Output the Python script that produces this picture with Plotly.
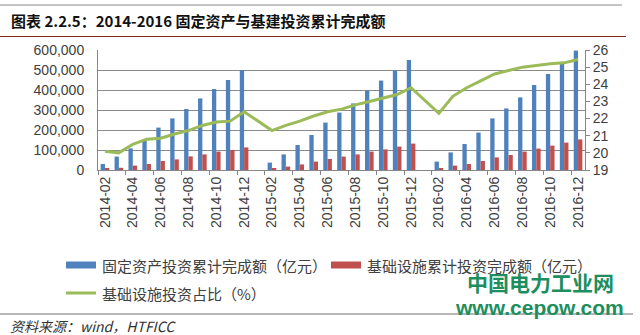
import plotly.graph_objects as go

# ---------------- data ----------------
months = [
    "2014-02", "2014-03", "2014-04", "2014-05", "2014-06", "2014-07", "2014-08",
    "2014-09", "2014-10", "2014-11", "2014-12",
    "2015-01", "2015-02", "2015-03", "2015-04", "2015-05", "2015-06", "2015-07",
    "2015-08", "2015-09", "2015-10", "2015-11", "2015-12",
    "2016-01", "2016-02", "2016-03", "2016-04", "2016-05", "2016-06", "2016-07",
    "2016-08", "2016-09", "2016-10", "2016-11", "2016-12",
]

fixed_asset = [
    30000, 67000, 108000, 150000, 212000, 258000, 305000, 358000, 405000, 450000, 500000,
    None,
    37000, 78000, 125000, 175000, 237000, 287000, 333000, 397000, 447000, 497000, 550000,
    None,
    42000, 88000, 130000, 187000, 258000, 308000, 363000, 425000, 480000, 533000, 597000,
]

infrastructure = [
    8000, 11000, 22000, 30000, 45000, 53000, 68000, 78000, 92000, 100000, 113000,
    None,
    8000, 17000, 28000, 42000, 55000, 67000, 78000, 92000, 103000, 117000, 132000,
    None,
    6000, 22000, 30000, 45000, 63000, 75000, 92000, 107000, 122000, 137000, 153000,
]

infra_share = [
    20.1, 20.0, 20.5, 20.8, 20.85, 21.1, 21.3, 21.6, 21.8, 21.85, 22.4,
    None,
    21.3, 21.6, 21.85, 22.15, 22.4, 22.55, 22.8, 23.0, 23.2, 23.4, 23.8,
    None,
    22.3, 23.3, 23.8, 24.2, 24.6, 24.8, 25.0, 25.1, 25.2, 25.25, 25.45,
]

series_names = [
    "固定资产投资累计完成额（亿元）",
    "基础设施累计投资完成额（亿元）",
    "基础设施投资占比（%）",
]
series_colors = ["#4F81BD", "#C0504D", "#9BBB59"]

title_text = "图表 2.2.5：2014-2016 固定资产与基建投资累计完成额"
source_text = "资料来源：wind，HTFICC"
watermark_cn = "中国电力工业网"
watermark_url = "www.cepow.com"

# ---------------- layout geometry ----------------
W, H = 640, 335
L, R, T, B = 98, 55, 50, 165
PW, PH = W - L - R, H - T - B


def fx(px):
    return (px - L) / PW


def fy(py):
    return (H - B - py) / PH


CJK = "Noto Sans CJK SC, Noto Sans, sans-serif"
NUM = "Liberation Sans, Arial, sans-serif"

fig = go.Figure()
fig.add_trace(go.Bar(x=months, y=fixed_asset, name=series_names[0],
                     marker=dict(color=series_colors[0], line=dict(width=0)),
                     showlegend=False))
fig.add_trace(go.Bar(x=months, y=infrastructure, name=series_names[1],
                     marker=dict(color=series_colors[1], line=dict(width=0)),
                     showlegend=False))
fig.add_trace(go.Scatter(x=months, y=infra_share, name=series_names[2], yaxis="y2",
                         mode="lines", connectgaps=True,
                         line=dict(color=series_colors[2], width=3),
                         showlegend=False))

shapes = []
annotations = []

# title and rules
annotations.append(dict(text="<b>" + title_text + "</b>", x=fx(9), y=fy(20),
                        xref="paper", yref="paper", xanchor="left", yanchor="middle",
                        showarrow=False, font=dict(family=CJK, size=15, color="#111111")))
shapes.append(dict(type="line", xref="paper", yref="paper", x0=fx(0), x1=fx(626),
                   y0=fy(36.5), y1=fy(36.5), line=dict(color="#7a2a22", width=1)))
shapes.append(dict(type="line", xref="paper", yref="paper", x0=fx(0), x1=fx(622),
                   y0=fy(5), y1=fy(5), line=dict(color="#b0b0b0", width=1.5)))

# manual legend (Excel style swatches)
leg = [
    (66, 265, "bar", series_colors[0], series_names[0], 100),
    (331, 265, "bar", series_colors[1], series_names[1], 365),
    (66, 293, "line", series_colors[2], series_names[2], 100),
]
for x0, yc, kind, col, name, tx in leg:
    if kind == "bar":
        shapes.append(dict(type="rect", xref="paper", yref="paper",
                           x0=fx(x0), x1=fx(x0 + 30), y0=fy(yc - 3.5), y1=fy(yc + 3.5),
                           fillcolor=col, line=dict(width=0)))
    else:
        shapes.append(dict(type="line", xref="paper", yref="paper",
                           x0=fx(x0), x1=fx(x0 + 30), y0=fy(yc), y1=fy(yc),
                           line=dict(color=col, width=3)))
    annotations.append(dict(text=name, x=fx(tx), y=fy(yc), xref="paper", yref="paper",
                            xanchor="left", yanchor="middle", showarrow=False,
                            font=dict(family=CJK, size=15, color="#404040")))

# separator and source
shapes.append(dict(type="line", xref="paper", yref="paper", x0=fx(0), x1=fx(633),
                   y0=fy(314), y1=fy(314), line=dict(color="#707070", width=1)))
annotations.append(dict(text="<i>" + source_text + "</i>", x=fx(8), y=fy(326),
                        xref="paper", yref="paper", xanchor="left", yanchor="middle",
                        showarrow=False, font=dict(family=CJK, size=14, color="#333333")))

# watermark
annotations.append(dict(text="<b>" + watermark_cn + "</b>", x=fx(540), y=fy(282),
                        xref="paper", yref="paper", xanchor="center", yanchor="middle",
                        showarrow=False, font=dict(family=CJK, size=21, color="#1d8f5e")))
annotations.append(dict(text="<b>" + watermark_url + "</b>", x=fx(539), y=fy(307),
                        xref="paper", yref="paper", xanchor="center", yanchor="middle",
                        showarrow=False, font=dict(family=NUM, size=21, color="#1d8f5e")))

fig.update_layout(
    width=W, height=H,
    margin=dict(l=L, r=R, t=T, b=B, pad=0),
    paper_bgcolor="white", plot_bgcolor="white",
    barmode="group", bargap=0.38, bargroupgap=0.0,
    showlegend=False,
    shapes=shapes, annotations=annotations,
    xaxis=dict(
        type="category", categoryorder="array", categoryarray=months,
        tickmode="linear", tick0=0, dtick=2, tickson="boundaries",
        ticks="outside", ticklen=4, tickcolor="#868686", tickwidth=1,
        showline=True, linecolor="#868686", linewidth=1,
        showgrid=False, tickangle=-90,
        tickfont=dict(family=NUM, size=14, color="#404040"),
    ),
    yaxis=dict(
        range=[0, 600000], dtick=100000, tickformat=",d",
        showgrid=True, gridcolor="#8a8a8a", gridwidth=1,
        showline=True, linecolor="#868686", linewidth=1,
        zeroline=False, ticks="", ticklabelstandoff=10,
        tickfont=dict(family=NUM, size=14, color="#404040"),
    ),
    yaxis2=dict(
        range=[19, 26], dtick=1, overlaying="y", side="right",
        showgrid=False, zeroline=False,
        showline=True, linecolor="#868686", linewidth=1,
        ticks="outside", ticklen=4, tickcolor="#868686",
        tickfont=dict(family=NUM, size=14, color="#404040"),
    ),
)

fig.write_html("out.html")
